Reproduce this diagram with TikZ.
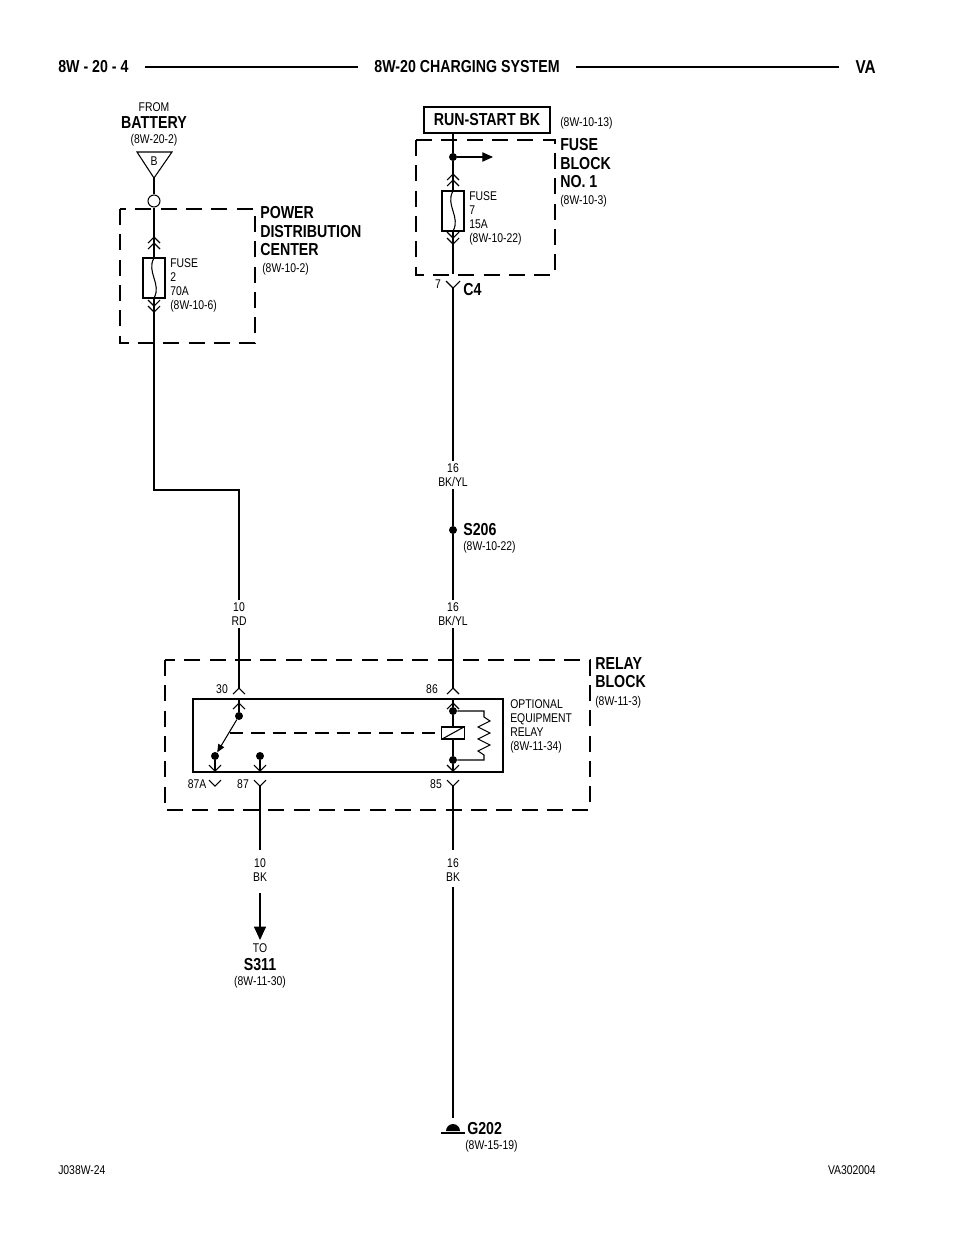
\documentclass[tikz,border=0pt]{standalone}
\usepackage{fontspec}
\setmainfont{Liberation Sans}[FakeStretch=0.82]
\usetikzlibrary{arrows.meta}

\tikzset{
    wire/.style={line width=0.8pt},
    box/.style={line width=1.6pt, dash pattern=on 12pt off 7pt},
    small/.style={font=\fontsize{9.5}{10.5}\selectfont, inner sep=0pt, align=left},
    big/.style={font=\bfseries\fontsize{13}{14}\selectfont, inner sep=0pt, align=left},
    dot/.style={circle, fill, inner sep=0pt, minimum size=6pt},
}
% connector chevrons
\newcommand{\up}[2]{\draw[wire] (#1-6,#2+6) -- (#1,#2) -- (#1+6,#2+6);}
\newcommand{\dn}[2]{\draw[wire] (#1-6,#2-6) -- (#1,#2) -- (#1+6,#2-6);}

\begin{document}
\begin{tikzpicture}[x=0.75pt, y=-0.75pt]
\useasboundingbox (0,0) rectangle (960,1242);

% header
\node[big, anchor=west] (pg) at (58,67) {8W - 20 - 4};
\node[big] (title) at (467,67) {8W-20 CHARGING SYSTEM};
\node[big, anchor=east, font=\bfseries\fontsize{14}{16}\selectfont] (va) at (876,67) {VA};
\draw[line width=2pt] ([xshift=12]pg.east) -- ([xshift=-12]title.west);
\draw[line width=2pt] ([xshift=12]title.east) -- ([xshift=-12]va.west);

% battery feed
\node[small] (from) at (154,107) {FROM};
\node[big] (bat) at (154,123) {BATTERY};
\node[small] (batref) at (154,140) {(8W-20-2)};
\coordinate (tri) at (154,178);
\draw[wire] (137,152) -- (172,152) -- (tri) -- cycle;
\node[small] (b) at (154,161) {B};
\node[draw, wire, circle, minimum size=9pt, inner sep=0pt] (eye) at (154,201) {};
\draw[wire] (tri) -- (eye.north);

% power distribution center
\draw[box] (120,209) rectangle (255,343);
\node[big, anchor=north west] (pdc) at (260,206) {POWER\\DISTRIBUTION\\CENTER};
\node[small, anchor=north west] (pdcref) at (262,263) {(8W-10-2)};
\draw[wire] (eye.south) -- (154,258);
\up{154}{237} \up{154}{243}
\node[draw, wire, minimum width=16.5pt, minimum height=30pt, inner sep=0pt] (f2) at (154,278) {};
\draw[wire] (154,258) .. controls (146,272) and (162,284) .. (154,298);
\dn{154}{306} \dn{154}{312}
\node[small, anchor=north west] (f2lbl) at (170,258) {FUSE\\2\\70A\\(8W-10-6)};
\coordinate (bend1) at (154,490);
\coordinate (bend2) at (239,490);
\coordinate (p30) at (239,688);
\draw[wire] (f2.south) -- (bend1) -- (bend2) -- (p30);
\node[small, fill=white, inner ysep=2pt, align=center] (w1) at (239,614) {10\\RD};

% fuse block no. 1
\node[draw, line width=1.6pt, minimum width=94pt, minimum height=19.5pt, big, inner sep=0pt] (rs) at (487,120) {RUN-START BK};
\node[small, anchor=west] (rsref) at (560,123) {(8W-10-13)};
\draw[box] (416,140) rectangle (555,275);
\node[big, anchor=north west] (fb) at (560,138) {FUSE\\BLOCK\\NO. 1};
\node[small, anchor=north west] (fbref) at (560,195) {(8W-10-3)};
\node[dot] (j1) at (453,157) {};
\coordinate (out1) at (493,157);
\draw[wire] (453,133) -- (j1);
\draw[wire, -{Triangle[length=8pt,width=7pt]}] (j1) -- (out1);
\draw[wire] (j1) -- (453,191);
\up{453}{174} \up{453}{180}
\node[draw, wire, minimum width=16.5pt, minimum height=30pt, inner sep=0pt] (f7) at (453,211) {};
\draw[wire] (453,191) .. controls (445,205) and (461,217) .. (453,231);
\dn{453}{238} \dn{453}{244}
\node[small, anchor=north west] (f7lbl) at (469,191) {FUSE\\7\\15A\\(8W-10-22)};
\draw[wire] (f7.south) -- (453,274);
\draw[wire] (446,281) -- (453,288) -- (460,281);
\node[small] (c4pin) at (438,284) {7};
\node[big, anchor=west] (c4) at (463,290) {C4};
\coordinate (p86) at (453,688);
\node[dot] (s206) at (453,530) {};
\draw[wire] (453,288) -- (s206) -- (p86);
\node[small, fill=white, inner ysep=2pt, align=center] (w2) at (453,475) {16\\BK/YL};
\node[small, fill=white, inner ysep=2pt, align=center] (w3) at (453,614) {16\\BK/YL};
\node[big, anchor=west] (s206lbl) at (463,530) {S206};
\node[small, anchor=west] (s206ref) at (463,547) {(8W-10-22)};

% relay block
\draw[box] (165,660) rectangle (590,810);
\node[big, anchor=north west] (rb) at (595,657) {RELAY\\BLOCK};
\node[small, anchor=north west] (rbref) at (595,696) {(8W-11-3)};
\draw[line width=1.6pt] (193,699) rectangle (503,772);
\node[small, anchor=north west] (rly) at (510,699) {OPTIONAL\\EQUIPMENT\\RELAY\\(8W-11-34)};
\up{239}{688} \up{453}{688}
\node[small] (n30) at (222,689) {30};
\node[small] (n86) at (432,689) {86};
% switch
\node[dot] (sw) at (239,716) {};
\node[dot] (nc) at (215,756) {};
\node[dot] (no) at (260,756) {};
\up{239}{703}
\draw[wire] (239,699) -- (sw);
\draw[wire, -{Triangle[length=6pt,width=5pt]}] (sw) -- (nc);
\draw[wire] (nc) -- (215,772); \dn{215}{771}
\draw[wire] (no) -- (260,772); \dn{260}{771}
\draw[wire] (209,780) -- (215,786) -- (221,780);
\draw[wire] (254,780) -- (260,786) -- (266,780);
\node[small] (n87a) at (197,784) {87A};
\node[small] (n87) at (243,784) {87};
% coil
\up{453}{703}
\node[dot] (ct) at (453,711) {};
\node[dot] (cb) at (453,760) {};
\node[draw, wire, fill=white, minimum width=17pt, minimum height=9pt, inner sep=0pt] (coil) at (453,733) {};
\draw[wire] (coil.south west) -- (coil.north east);
\draw[wire] (453,699) -- (ct) -- (coil.north);
\draw[wire] (coil.south) -- (cb) -- (453,772);
\dn{453}{771}
\draw[wire] (ct) -- (484,711) -- (484,717) -- (490,721) -- (478,727) -- (490,733) -- (478,739) -- (490,745) -- (478,751) -- (484,755) -- (484,760) -- (cb);
\draw[wire, dash pattern=on 10pt off 6pt] (230,733) -- (coil.west);
\draw[wire] (447,780) -- (453,786) -- (459,780);
\node[small] (n85) at (436,784) {85};

% outputs
\coordinate (s311) at (260,940);
\draw[wire] (260,786) -- (260,850);
\node[small, align=center] (w4) at (260,870) {10\\BK};
\draw[wire, -{Triangle[length=10pt,width=9pt]}] (260,893) -- (s311);
\node[small] (to) at (260,948) {TO};
\node[big] (s311lbl) at (260,965) {S311};
\node[small] (s311ref) at (260,982) {(8W-11-30)};
\draw[wire] (453,786) -- (453,850);
\node[small, align=center] (w5) at (453,870) {16\\BK};
\coordinate (gnd) at (453,1118);
\draw[wire] (453,887) -- (gnd);
\fill (446,1131) arc (180:360:7) -- cycle;
\draw[line width=1.5pt] (441,1133) -- (465,1133);
\node[big, anchor=west] (g202) at (467,1129) {G202};
\node[small, anchor=west] (g202ref) at (465,1146) {(8W-15-19)};

% footer
\node[small, anchor=west] (fl) at (58,1170) {J038W-24};
\node[small, anchor=east] (fr) at (876,1170) {VA302004};
\end{tikzpicture}
\end{document}
